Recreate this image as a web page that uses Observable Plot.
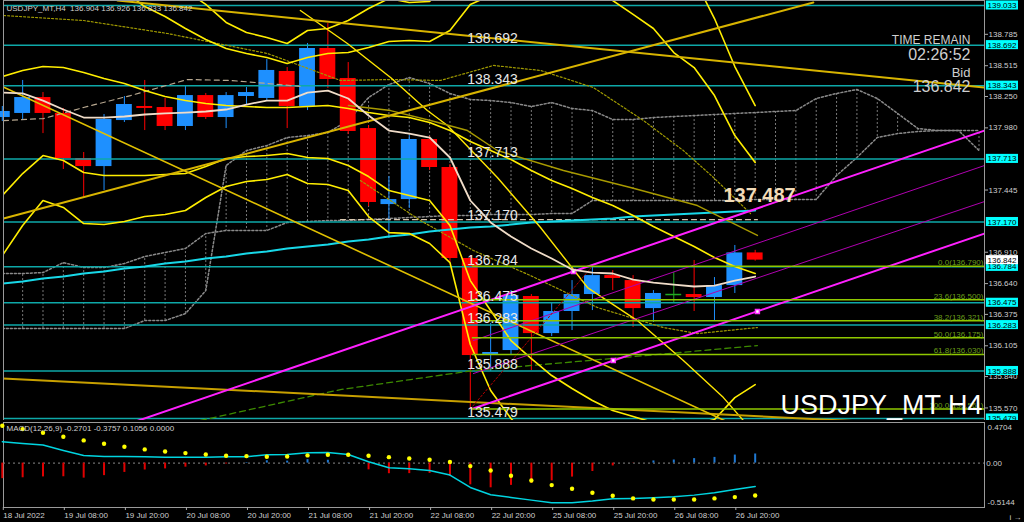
<!DOCTYPE html>
<html><head><meta charset="utf-8">
<script src="https://cdn.jsdelivr.net/npm/d3@7"></script>
<script src="https://cdn.jsdelivr.net/npm/@observablehq/plot@0.6"></script>
<style>
html,body{margin:0;padding:0;background:#000;width:1024px;height:522px;overflow:hidden}
#main,#macd{display:block;line-height:0}
svg{display:block}
</style></head><body>
<div id="main"></div><div id="macd"></div>
<script>
// ---- categories / ticks ----
const dateTicks = [0,3,6,9,12,15,18,21,24,27,30,33,36];
const dateLabels = ["18 Jul 2022","19 Jul 08:00","19 Jul 20:00","20 Jul 08:00","20 Jul 20:00","21 Jul 08:00","21 Jul 20:00","22 Jul 08:00","22 Jul 20:00","25 Jul 08:00","25 Jul 20:00","26 Jul 08:00","26 Jul 20:00"];
const priceTicks = [138.785,138.515,138.250,137.980,137.445,136.910,136.640,136.375,136.105,135.840,135.570];

// ---- candles (H4) ----
const open  = [138.069,138.104,138.241,138.104,137.716,137.647,138.043,138.164,138.155,137.992,138.258,138.069,138.250,138.233,138.465,138.164,138.663,138.405,137.974,137.320,137.363,137.880,137.639,136.856,136.030,136.064,136.529,136.210,136.400,136.546,136.709,136.666,136.425,136.546,136.546,136.520,136.623,136.904];
const high  = [138.164,138.388,138.284,138.147,137.768,138.095,138.250,138.388,138.233,138.336,138.276,138.284,138.327,138.568,138.499,138.706,138.878,138.542,138.000,137.561,137.914,137.906,137.665,136.882,136.297,136.580,136.546,136.477,136.666,136.790,136.752,136.709,136.580,136.735,136.839,136.692,136.968,136.926];
const low   = [138.035,138.043,137.931,137.622,137.381,137.441,138.026,137.957,137.957,137.957,138.052,137.974,138.172,138.215,137.974,138.129,138.319,137.923,137.303,137.028,137.286,137.613,136.821,135.561,135.883,136.021,135.892,136.184,136.236,136.408,136.580,136.262,136.305,136.469,136.400,136.322,136.555,136.833];
const close = [138.121,138.241,138.104,137.716,137.647,138.052,138.181,138.147,137.992,138.258,138.069,138.258,138.284,138.474,138.164,138.663,138.396,137.949,137.338,137.363,137.880,137.639,136.856,136.021,136.047,136.537,136.210,136.400,136.546,136.709,136.684,136.425,136.555,136.546,136.520,136.623,136.904,136.842];

// ---- indicators per bar ----
const bbMid = [138.422,138.474,138.508,138.499,138.456,138.405,138.362,138.301,138.250,138.215,138.190,138.172,138.164,138.155,138.155,138.164,138.172,138.147,138.112,138.086,138.069,138.026,137.957,137.863,137.785,137.708,137.613,137.527,137.458,137.381,137.312,137.226,137.131,137.045,136.959,136.864,136.787,136.727];
const bbUp2 = [139.446,139.360,139.274,139.300,139.326,139.240,139.153,139.024,138.938,138.835,138.740,138.663,138.620,138.585,138.534,138.585,138.620,138.628,138.672,138.723,138.732,138.723,138.818,139.042,139.119,139.205,139.214,139.205,139.179,139.128,139.076,138.956,138.835,138.628,138.499,138.258,137.914,137.682];
const bbLo2 = [137.398,137.587,137.742,137.699,137.596,137.570,137.570,137.570,137.579,137.587,137.647,137.716,137.733,137.742,137.759,137.725,137.716,137.656,137.561,137.441,137.398,137.355,137.140,136.666,136.408,136.150,135.995,135.849,135.737,135.634,135.548,135.496,135.444,135.462,135.427,135.470,135.659,135.771];
const bbUp3 = [139.962,139.807,139.661,139.704,139.756,139.661,139.549,139.386,139.265,139.162,139.042,138.887,138.801,138.758,138.706,138.818,138.835,138.904,139.007,139.093,139.059,139.067,139.248,139.627,139.868,139.954,140.023,140.066,140.066,140.023,139.937,139.807,139.687,139.420,139.265,138.921,138.508,138.172];
const bbLo3 = [136.881,137.140,137.355,137.295,137.157,137.148,137.174,137.217,137.234,137.269,137.381,137.475,137.518,137.536,137.579,137.501,137.493,137.441,137.217,137.079,137.071,136.985,136.821,136.116,135.720,135.479,135.289,135.117,134.945,134.773,134.601,134.429,134.257,134.257,134.257,134.515,134.945,135.289];
const maFast = [138.284,138.276,138.215,138.138,138.069,138.069,138.078,138.095,138.104,138.112,138.121,138.138,138.181,138.215,138.215,138.284,138.301,138.233,138.086,137.957,137.931,137.897,137.725,137.355,137.166,137.045,136.942,136.856,136.761,136.735,136.727,136.675,136.649,136.632,136.615,136.623,136.666,136.701];
const maSlow = [136.641,136.658,136.684,136.701,136.727,136.744,136.770,136.787,136.813,136.830,136.856,136.873,136.899,136.916,136.942,136.959,136.976,137.002,137.019,137.045,137.062,137.088,137.105,137.123,137.131,137.148,137.166,137.174,137.183,137.192,137.200,137.217,137.226,137.234,137.243,137.252,137.260,137.269];
// Ichimoku cloud spans (projected 11 bars past the last candle)
const cloudA = [136.253,136.253,136.253,136.253,136.253,136.253,136.253,136.322,136.322,136.382,136.580,137.656,137.785,137.828,137.897,137.914,137.940,138.043,138.241,138.353,138.413,138.362,138.276,138.224,138.215,138.198,138.164,138.198,138.147,138.129,138.052,138.052,138.069,138.078,138.086,138.095,138.104,138.112,138.121,138.129,138.233,138.276,138.310,138.233,138.104,137.974,137.957,137.957,137.785];
const cloudB = [136.727,136.727,136.735,136.821,136.778,136.778,136.813,136.873,136.908,136.942,137.071,137.097,137.097,137.097,137.166,137.174,137.183,137.183,137.192,137.200,137.209,137.217,137.226,137.226,137.234,137.234,137.234,137.243,137.243,137.355,137.355,137.355,137.355,137.355,137.355,137.355,137.355,137.364,137.364,137.364,137.364,137.570,137.725,137.897,137.931,137.949,137.957,137.957,137.957];

// ---- MACD(12,26,9) ----
const macdMain = [0.247,0.228,0.209,0.147,0.089,0.077,0.077,0.073,0.069,0.069,0.069,0.073,0.073,0.097,0.100,0.120,0.124,0.100,0.015,-0.054,-0.066,-0.085,-0.139,-0.282,-0.367,-0.398,-0.429,-0.460,-0.460,-0.440,-0.413,-0.409,-0.402,-0.390,-0.371,-0.344,-0.305,-0.2701];
const macdSignal = [0.432,0.394,0.351,0.305,0.263,0.224,0.189,0.159,0.135,0.116,0.100,0.085,0.081,0.073,0.077,0.089,0.097,0.097,0.085,0.069,0.054,0.039,0.012,-0.035,-0.085,-0.147,-0.201,-0.255,-0.297,-0.344,-0.378,-0.409,-0.421,-0.421,-0.421,-0.409,-0.394,-0.3757];
const macdHist = [-0.180,-0.170,-0.160,-0.158,-0.174,-0.145,-0.108,-0.080,-0.067,-0.047,-0.033,-0.010,0.006,0.027,0.023,0.040,0.033,0.003,-0.078,-0.123,-0.122,-0.120,-0.155,-0.252,-0.286,-0.258,-0.235,-0.206,-0.162,-0.097,-0.033,-0.002,0.025,0.036,0.052,0.066,0.093,0.1056];

// ---- horizontal levels / fibonacci ----
const levels = [139.033,138.692,138.343,137.713,137.170,136.784,136.475,136.283,135.888,135.479];
const fibPct = [0.0,23.6,38.2,50.0,61.8,100.0];
const fibPrice = [136.790,136.500,136.321,136.175,136.030,135.561];
const bidPrice = 136.842;

// ---- drawn objects: [bar index, price] ----
const trendA = [[5.66,139.076],[48.27,138.326]];
const trendB = [[0.06,137.200],[39.86,139.059]];
const trendC = [[0,135.823],[48.27,135.401]];
const trendD = [[0,138.336],[36.5,135.38]];
const curveY = [[14.65,138.990],[16.96,138.706],[19.08,138.413],[20.89,138.129],[21.88,138.000],[24.33,137.553],[26.45,137.123],[28.76,136.606],[31.21,136.322],[33.47,135.978],[35.44,135.659],[36.42,135.462],[37.26,135.333]];
const curveO = [[17.01,138.172],[19.08,138.129],[21.04,138.043],[22.86,137.957],[24.33,137.785],[27.58,137.613],[30.87,137.467],[34.16,137.312],[37.11,137.054]];
const dotUpper = [[0.06,138.947],[3.99,138.904],[8.12,138.792],[13.03,138.620],[16.62,138.388],[19.08,138.396],[21.53,138.388],[24.14,138.517],[26.45,138.474],[29.05,138.327],[31.51,138.043],[33.47,137.785],[34.95,137.553],[36.77,137.243]];
const dotLower = [[17.6,137.527],[20.55,137.183],[23.15,136.925],[25.96,136.709],[29.25,136.434],[32.49,136.262],[34.16,136.210],[37.11,136.262]];
const dashGreen = [[9.74,135.462],[16.62,135.728],[23.15,135.892],[33.33,136.047],[37.11,136.107]];
const dashTanL = [[0.06,138.043],[2.02,138.060],[3.99,138.155],[6.3,138.258],[9.1,138.396],[11.21,138.388],[13.03,138.362],[14.65,138.336]];
const dashTanR = [[16.62,137.19],[37.11,137.19]];
const chanUpper = [[4.83,135.350],[48.27,137.957]];
const chanLower = [[23.15,135.565],[48.27,137.071]];
const chanMidA = [[23.15,136.150],[48.27,137.656]];
const chanMidB = [[23.15,135.866],[48.27,137.346]];
const chanPoints = [[28.07,136.744],[30.03,135.978],[37.11,136.400]];
const fibTrend = [[23,135.561],[29,136.790]];
const annotPrice = 137.487;

// ---- build ----
const bars = open.map((o,i)=>({i, o, h:high[i], l:low[i], c:close[i]}));
const up = bars.filter(d=>d.c>d.o), dn = bars.filter(d=>d.c<d.o), dj = bars.filter(d=>d.c===d.o);
const series = a => a.map((v,i)=>({i, v}));
const cloud = cloudA.map((a,i)=>({i, a, b: cloudB[i]}));
const XD = [0.059, 48.27];
const BW = 0.39;
const F = "'Liberation Sans', Arial, sans-serif";
const P = (arr, o) => Plot.line(arr, {x: d=>d[0], y: d=>d[1], clip: true, ...o});
const S = (arr, o) => Plot.line(series(arr), {x: "i", y: "v", clip: true, ...o});

const main = Plot.plot({
  width: 1024, height: 420,
  marginLeft: 3, marginRight: 40, marginTop: 0, marginBottom: 0,
  x: {domain: XD, axis: null},
  y: {domain: [135.462, 139.076], axis: null},
  style: {background: "#000", color: "#cccccc", fontFamily: F, fontSize: "8px"},
  marks: [
    // Ichimoku cloud (dotted)
    Plot.ruleX(cloud, {x: "i", y1: "a", y2: "b", stroke: "#7a7a7a", strokeDasharray: "2,2", clip: true}),
    Plot.line(cloud, {x: "i", y: "a", stroke: "#8a8a8a", strokeDasharray: "2,2", clip: true}),
    Plot.line(cloud, {x: "i", y: "b", stroke: "#8a8a8a", strokeDasharray: "2,2", clip: true}),
    // candles
    Plot.ruleX(up, {x: "i", y1: "l", y2: "h", stroke: "#1e90ff"}),
    Plot.ruleX(dn, {x: "i", y1: "l", y2: "h", stroke: "#ff0000"}),
    Plot.ruleX(dj, {x: "i", y1: "l", y2: "h", stroke: "#22aa22"}),
    Plot.rect(up, {x1: d=>d.i-BW, x2: d=>d.i+BW, y1: "o", y2: "c", fill: "#1e90ff"}),
    Plot.rect(dn, {x1: d=>d.i-BW, x2: d=>d.i+BW, y1: "o", y2: "c", fill: "#ff0000"}),
    Plot.ruleY(dj, {y: "o", x1: d=>d.i-BW, x2: d=>d.i+BW, stroke: "#22aa22", strokeWidth: 1.5}),
    // horizontal S/R levels
    Plot.ruleY(levels, {stroke: "#0ea8a8", strokeWidth: 1.5}),
    // olive dotted / dashed lines
    P(dotUpper, {stroke: "#a09a00", strokeDasharray: "2,2", strokeWidth: 1.2}),
    P(dotLower, {stroke: "#a09a00", strokeDasharray: "2,2", strokeWidth: 1.2}),
    P(dashGreen, {stroke: "#3d8a00", strokeDasharray: "6,4", strokeWidth: 1.3}),
    P(dashTanL, {stroke: "#b8a890", strokeDasharray: "5,4", strokeWidth: 1.2}),
    P(dashTanR, {stroke: "#d8c8b0", strokeDasharray: "5,4", strokeWidth: 1.2}),
    // long MA
    S(maSlow, {stroke: "#18d8e8", strokeWidth: 2}),
    // Bollinger bands
    S(bbUp3, {stroke: "#ffee00", strokeWidth: 1.6}),
    S(bbUp2, {stroke: "#ffee00", strokeWidth: 1.6}),
    S(bbMid, {stroke: "#ffee00", strokeWidth: 1.6}),
    S(bbLo2, {stroke: "#ffee00", strokeWidth: 1.6}),
    S(bbLo3, {stroke: "#ffee00", strokeWidth: 1.6}),
    P(curveY, {stroke: "#ffe600", strokeWidth: 1.4}),
    P(curveO, {stroke: "#a89a00", strokeWidth: 1.4}),
    // trendlines
    P(trendA, {stroke: "#d8b400", strokeWidth: 2}),
    P(trendB, {stroke: "#d8b400", strokeWidth: 2}),
    P(trendC, {stroke: "#c8a000", strokeWidth: 2}),
    P(trendD, {stroke: "#e0c000", strokeWidth: 1.6}),
    // channel
    P(chanMidA, {stroke: "#b000b0", strokeWidth: 1}),
    P(chanMidB, {stroke: "#b000b0", strokeWidth: 1}),
    P(chanUpper, {stroke: "#ff20ff", strokeWidth: 2}),
    P(chanLower, {stroke: "#ff20ff", strokeWidth: 2}),
    Plot.dot(chanPoints, {x: d=>d[0], y: d=>d[1], symbol: "square", r: 2.2, fill: "#ffffff", stroke: "#ff30ff"}),
    // fibonacci
    P(fibTrend, {stroke: "#b00000", strokeDasharray: "2,2", strokeWidth: 1}),
    Plot.ruleY(fibPrice, {x1: ()=>23.1, x2: ()=>48.27, stroke: "#8fc800", strokeWidth: 1.5}),
    Plot.text(fibPrice, {x: ()=>48.22, y: d=>d, text: (d,i)=>`${fibPct[i].toFixed(1)}(${d.toFixed(3)})`, textAnchor: "end", lineAnchor: "bottom", dy: -1, fill: "#6a9e1a", fontSize: 8}),
    // fast MA
    S(maFast, {stroke: "#f0dcc8", strokeWidth: 1.8}),
    // level labels
    Plot.text(levels.slice(1), {x: ()=>22.85, y: d=>d, text: d=>d.toFixed(3), textAnchor: "start", lineAnchor: "bottom", dy: -2, fill: "#e8e8e8", fontSize: 14}),
    Plot.text([annotPrice], {x: ()=>35.44, y: ()=>137.398, text: d=>d.toFixed(3), textAnchor: "start", fontWeight: "bold", fontSize: 20, fill: "#f3dcb8"}),
    // frame + right axis
    Plot.frame({stroke: "#9a9a9a"}),
    Plot.axisY({ticks: priceTicks, anchor: "right", tickSize: 3, tickPadding: 1, tickFormat: d=>d.toFixed(3), fill: "#cfcfcf", stroke: "#aaaaaa", fontSize: 8}),
    Plot.rect(levels, {x1: ()=>48.36, x2: ()=>49.94, y1: d=>d-0.039, y2: d=>d+0.039, fill: "#00ffff"}),
    Plot.text(levels, {x: ()=>48.42, y: d=>d, text: d=>d.toFixed(3), textAnchor: "start", fill: "#000", fontSize: 8}),
    Plot.rect([bidPrice], {x1: ()=>48.36, x2: ()=>49.94, y1: d=>d-0.039, y2: d=>d+0.039, fill: "#ffffff"}),
    Plot.text([bidPrice], {x: ()=>48.42, y: d=>d, text: d=>d.toFixed(3), textAnchor: "start", fill: "#000", fontSize: 8}),
    // texts
    Plot.text(["USDJPY_MT,H4\u00a0 136.904 136.926 136.833 136.842"], {text: d=>d, frameAnchor: "top-left", dx: 3, dy: 8, textAnchor: "start", lineAnchor: "middle", fill: "#d0d0d0", fontSize: 8}),
    Plot.text(["TIME REMAIN"], {text: d=>d, frameAnchor: "top-right", dx: -14, dy: 40, textAnchor: "end", lineAnchor: "middle", fill: "#cfcfcf", fontSize: 12}),
    Plot.text(["02:26:52"], {text: d=>d, frameAnchor: "top-right", dx: -14, dy: 54, textAnchor: "end", lineAnchor: "middle", fill: "#cfcfcf", fontSize: 16}),
    Plot.text(["Bid"], {text: d=>d, frameAnchor: "top-right", dx: -14, dy: 72, textAnchor: "end", lineAnchor: "middle", fill: "#cfcfcf", fontSize: 13}),
    Plot.text([bidPrice], {text: d=>d.toFixed(3), frameAnchor: "top-right", dx: -14, dy: 86, textAnchor: "end", lineAnchor: "middle", fill: "#cfcfcf", fontSize: 16}),
    Plot.text(["USDJPY_MT H4"], {text: d=>d, frameAnchor: "bottom-right", dx: -2, dy: -7, textAnchor: "end", lineAnchor: "bottom", fill: "#ffffff", fontSize: 27})
  ]
});
document.getElementById("main").appendChild(main);

const hist = series(macdHist);
const macd = Plot.plot({
  width: 1024, height: 102,
  marginLeft: 3, marginRight: 40, marginTop: 2, marginBottom: 15,
  x: {domain: XD, axis: null},
  y: {domain: [-0.5144, 0.4704], axis: null},
  style: {background: "#000", color: "#cccccc", fontFamily: F, fontSize: "8px"},
  marks: [
    Plot.frame({stroke: "#9a9a9a"}),
    Plot.ruleY([0], {stroke: "#8a8a8a", strokeDasharray: "2,3"}),
    Plot.ruleX(hist.filter(d=>d.v<0), {x: "i", y1: 0, y2: "v", stroke: "#e00000", strokeWidth: 2}),
    Plot.ruleX(hist.filter(d=>d.v>=0), {x: "i", y1: 0, y2: "v", stroke: "#1f78d1", strokeWidth: 2}),
    Plot.line(series(macdMain), {x: "i", y: "v", stroke: "#00d4e0", strokeWidth: 1.5}),
    Plot.dot(series(macdSignal), {x: "i", y: "v", r: 2.2, fill: "#ffff00"}),
    Plot.axisX({ticks: dateTicks, tickFormat: d=>dateLabels[dateTicks.indexOf(d)], anchor: "bottom", textAnchor: "start", dx: 1, tickSize: 3, tickPadding: 2, fill: "#cfcfcf", stroke: "#aaaaaa", fontSize: 8}),
    Plot.text(["MACD(12,26,9) -0.2701 -0.3757 0.1056 0.0000"], {text: d=>d, frameAnchor: "top-left", dx: 3, dy: 6, textAnchor: "start", lineAnchor: "middle", fill: "#d0d0d0", fontSize: 8}),
    Plot.text(["0.4704"], {text: d=>d, frameAnchor: "top-right", dx: 3, dy: 5, textAnchor: "start", lineAnchor: "middle", fill: "#cfcfcf", fontSize: 8}),
    Plot.text(["0.00"], {text: d=>d, x: ()=>48.36, y: ()=>0, textAnchor: "start", lineAnchor: "middle", fill: "#cfcfcf", fontSize: 8}),
    Plot.text(["-0.5144"], {text: d=>d, frameAnchor: "bottom-right", dx: 3, dy: -5, textAnchor: "start", lineAnchor: "middle", fill: "#cfcfcf", fontSize: 8})
  ]
});
document.getElementById("macd").appendChild(macd);
</script></body></html>
